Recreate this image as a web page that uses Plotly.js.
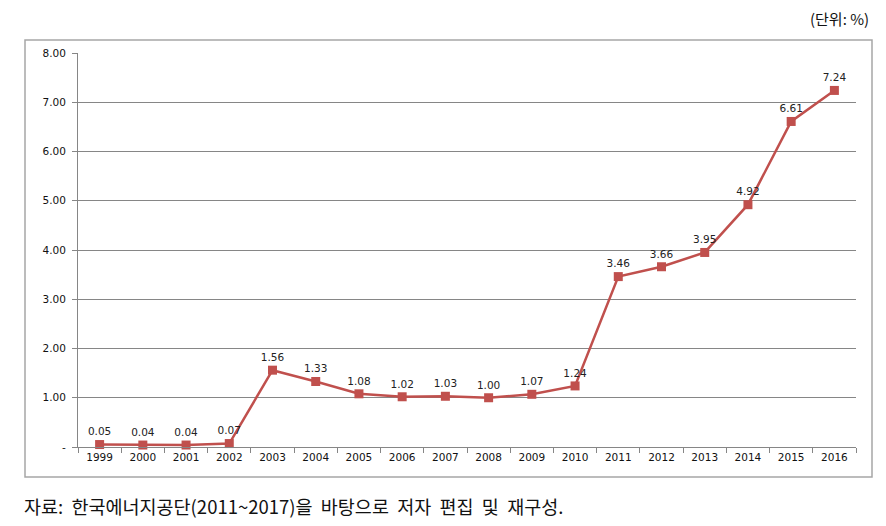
<!DOCTYPE html>
<html><head><meta charset="utf-8">
<script src="https://cdn.plot.ly/plotly-3.0.1.min.js"></script>
<style>html,body{margin:0;padding:0;background:#fff;}#c{width:886px;height:526px;}</style>
</head><body><div id="c"></div>
<script>
const years = ['1999','2000','2001','2002','2003','2004','2005','2006','2007','2008','2009','2010','2011','2012','2013','2014','2015','2016'];
const values = [0.05,0.04,0.04,0.07,1.56,1.33,1.08,1.02,1.03,1.00,1.07,1.24,3.46,3.66,3.95,4.92,6.61,7.24];
const yTickVals = [0,1,2,3,4,5,6,7,8];
const yTickText = ['-','1.00','2.00','3.00','4.00','5.00','6.00','7.00','8.00'];
const unitText = '(단위: %)';
const sourceText = '자료:  한국에너지공단(2011~2017)을  바탕으로  저자  편집  및  재구성.';

const L=78, R=856, T=53, B=447;
const W=R-L, H=B-T;
const px = x => (x-L)/W, py = y => (B-y)/H;

const trace = {
  x: years, y: values, type:'scatter', mode:'lines+markers+text',
  line:{color:'#C0504D', width:2.5},
  marker:{symbol:'square', size:9, color:'#C0504D'},
  text: values.map(v=>v.toFixed(2)), textposition:'top center',
  textfont:{family:'DejaVu Sans, Verdana, sans-serif', size:10.5, color:'#222'},
  cliponaxis:false, hoverinfo:'none'
};
const layout = {
  width:886, height:526,
  margin:{l:L, r:886-R, t:T, b:526-B},
  paper_bgcolor:'#fff', plot_bgcolor:'#fff',
  showlegend:false,
  xaxis:{type:'category', showgrid:false, showline:true, linecolor:'#868686', linewidth:1,
    ticks:'outside', tickson:'boundaries', ticklen:5, tickcolor:'#868686',
    tickfont:{family:'DejaVu Sans, Verdana, sans-serif', size:10.5, color:'#111'}, range:[-0.5,17.5], fixedrange:true},
  yaxis:{range:[0,8], tickvals:yTickVals, ticktext:yTickText, showgrid:true, gridcolor:'#868686', gridwidth:1,
    showline:true, linecolor:'#868686', ticks:'outside', ticklen:5, tickcolor:'#868686', zeroline:false,
    tickfont:{family:'DejaVu Sans, Verdana, sans-serif', size:10.5, color:'#111'}, ticklabelstandoff:4, fixedrange:true},
  shapes:[{type:'rect', xref:'paper', yref:'paper', x0:px(25), x1:px(872), y0:py(477), y1:py(40),
    line:{color:'#A6A6A6', width:1.5}, fillcolor:'rgba(0,0,0,0)', layer:'below'}],
  annotations:[
    {text:unitText, xref:'paper', yref:'paper', x:px(871), y:py(18), xanchor:'right', yanchor:'middle', showarrow:false,
     font:{family:'Noto Sans CJK KR, sans-serif', size:15, color:'#111'}},
    {text:sourceText, xref:'paper', yref:'paper', x:px(22), y:py(506), xanchor:'left', yanchor:'middle', showarrow:false,
     font:{family:'Noto Sans CJK KR, sans-serif', size:18.5, color:'#111'}}
  ]
};
Plotly.newPlot('c',[trace],layout,{staticPlot:true, displayModeBar:false});
</script></body></html>
